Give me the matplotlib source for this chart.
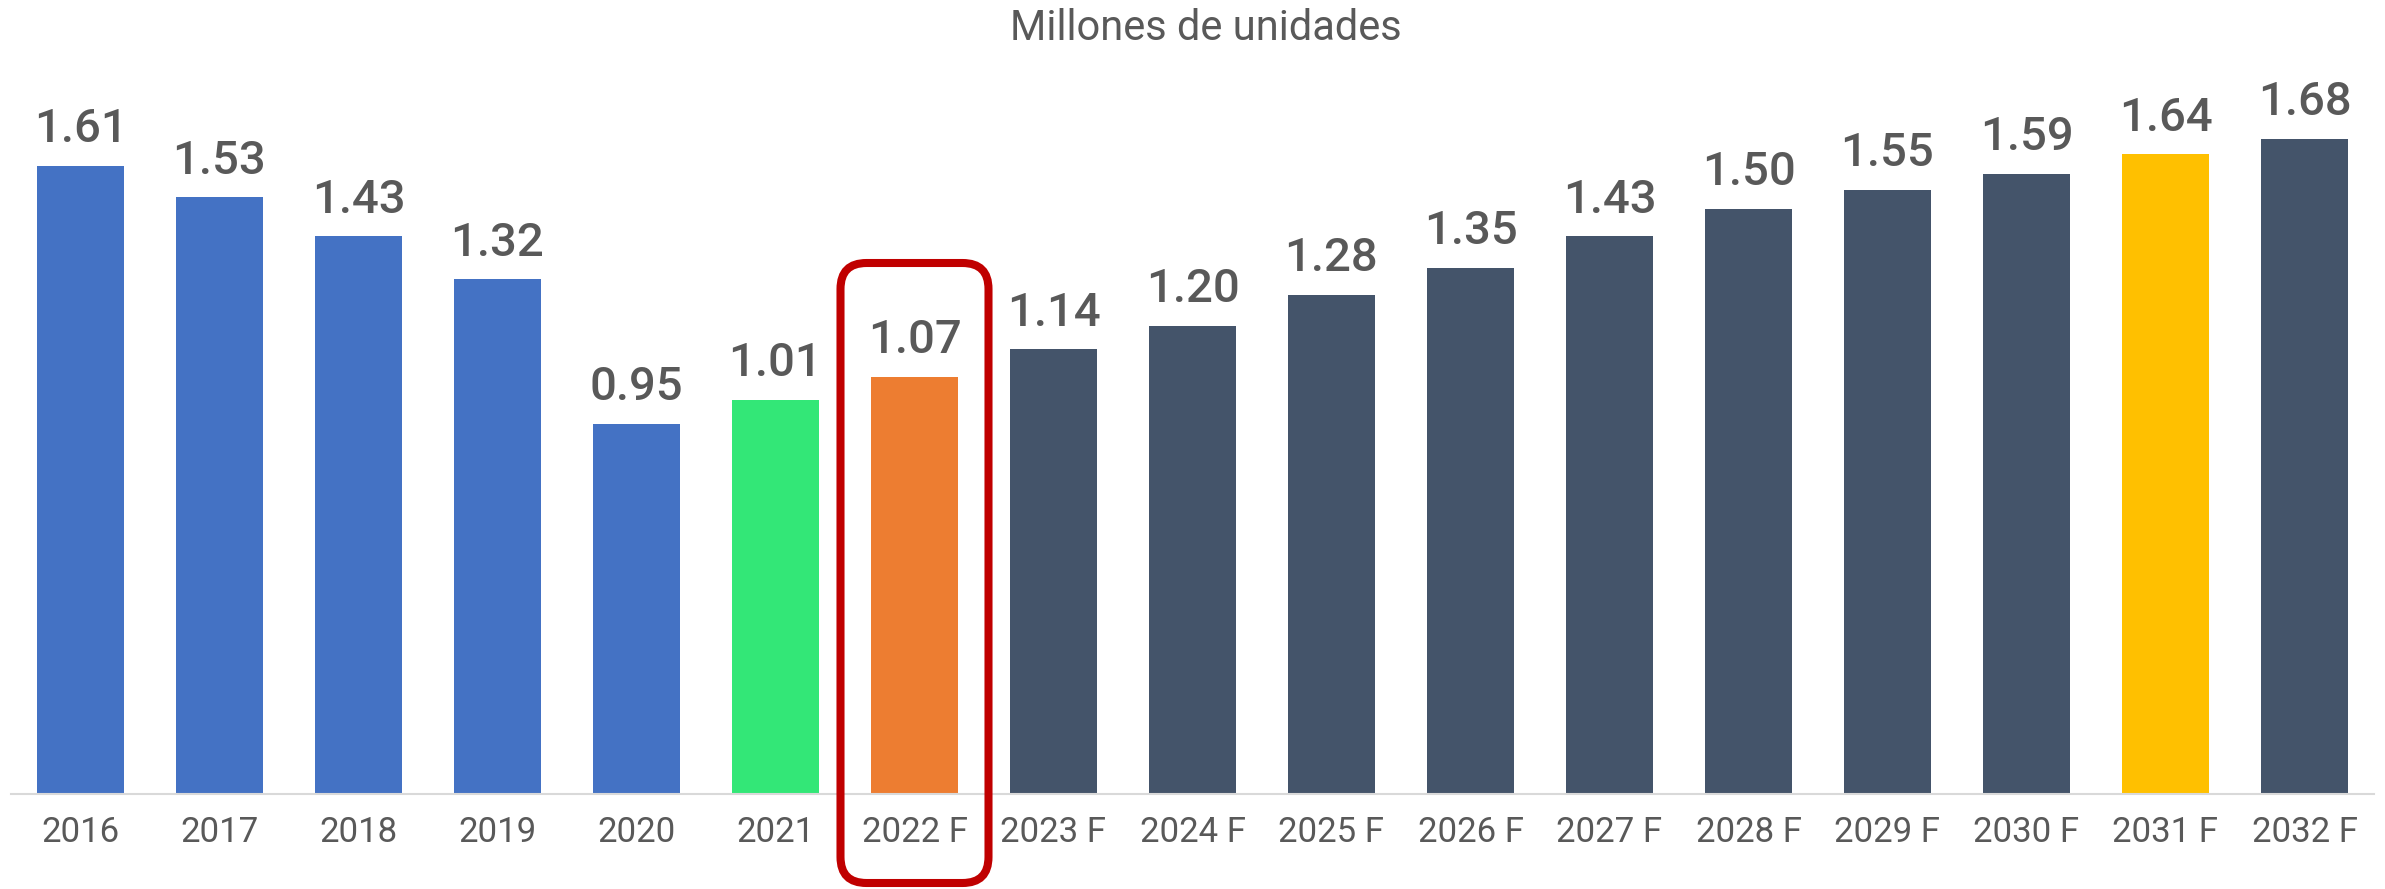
import matplotlib
matplotlib.use("Agg")
import matplotlib.pyplot as plt
from matplotlib.patches import FancyBboxPatch
from matplotlib.transforms import IdentityTransform

# datos (millones de unidades)
years = ["2016", "2017", "2018", "2019", "2020", "2021", "2022 F", "2023 F",
         "2024 F", "2025 F", "2026 F", "2027 F", "2028 F", "2029 F", "2030 F",
         "2031 F", "2032 F"]
values = [1.61, 1.53, 1.43, 1.32, 0.95, 1.01, 1.07, 1.14, 1.20, 1.28, 1.35,
          1.43, 1.50, 1.55, 1.59, 1.64, 1.68]
colors = ["#4472C4"] * 5 + ["#33E777", "#ED7D31"] + ["#44546A"] * 8 + ["#FFC000", "#44546A"]
highlight = "2022 F"

plt.rcParams['font.family'] = ['Roboto', 'DejaVu Sans']
text_color = "#595959"

W, H = 2385, 889
fig = plt.figure(figsize=(W / 100, H / 100), dpi=100)
ax = fig.add_axes([11 / W, 95 / H, 2363 / W, 754 / H])

x = list(range(len(years)))
ax.bar(x, values, width=0.62, color=colors)
ax.set_xlim(-0.5, len(years) - 0.5)
ax.set_ylim(0, 754 / 390)

for xi, v in zip(x, values):
    ax.annotate(f"{v:.2f}", xy=(xi, v), xytext=(0, 17), textcoords="offset points",
                ha="center", va="baseline", fontsize=34, fontweight="medium",
                color=text_color)

ax.set_xticks(x)
ax.set_xticklabels(years, fontsize=25, color=text_color)
ax.tick_params(axis="x", length=0, pad=16)
ax.set_yticks([])
for s in ["top", "right", "left"]:
    ax.spines[s].set_visible(False)
ax.spines["bottom"].set_color("#D9D9D9")
ax.spines["bottom"].set_linewidth(1.5)

fig.text(1206 / W, 1 - 28 / H, "Millones de unidades", ha="center", va="center",
         fontsize=30, color=text_color)

# recuadro redondeado alrededor de la barra destacada
hi = years.index(highlight)
cx = ax.transData.transform((hi, 0))[0]
box = FancyBboxPatch((cx - 74, 6), 148, 620,
                     boxstyle="round,pad=0,rounding_size=26",
                     transform=IdentityTransform(), fill=False,
                     edgecolor="#C00000", linewidth=5.8, clip_on=False)
fig.add_artist(box)

fig.savefig("out.png", dpi=100)
